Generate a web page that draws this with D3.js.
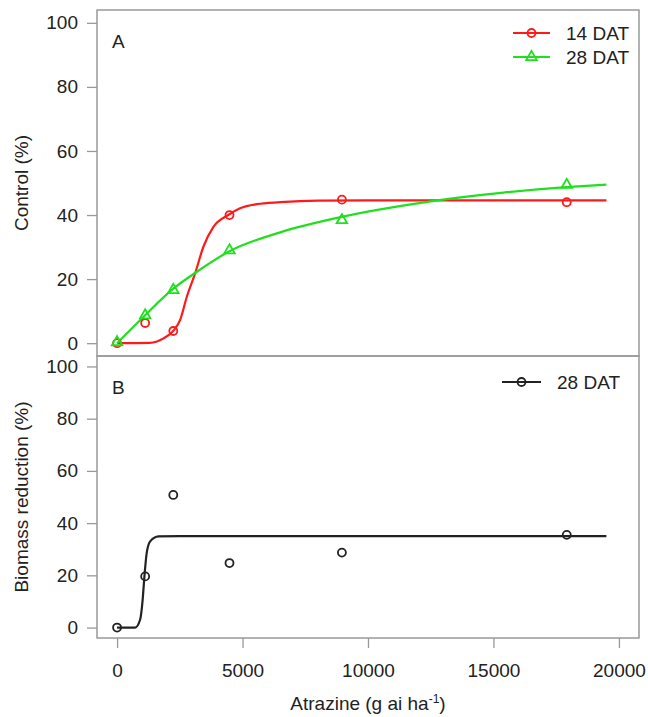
<!DOCTYPE html>
<html lang="en">

<head>
    <meta charset="UTF-8">
    <title>Atrazine dose response</title>
    <script src="https://d3js.org/d3.v7.min.js"></script>
    <style>
        body,
        html {
            margin: 0;
            padding: 0;
            background: #fff;
            overflow: hidden;
        }

        svg {
            display: block;
            font-family: "Liberation Sans", Arial, sans-serif;
        }
    </style>
</head>

<body>
    <script>
        // Observed values (g ai/ha)
        const doses = [0, 1120, 2240, 4480, 8960, 17920];
        const control14 = [0, 6.3, 3.8, 40, 44.8, 44];
        const control28 = [0.3, 8.7, 16.6, 29, 38.4, 49.4];
        const biomass28 = [0, 19.6, 50.8, 24.7, 28.7, 35.5];

        // Fitted curves
        const fit14X = [0, 1300, 1850, 2270, 2510, 2780, 3110, 3440, 3840, 4430, 4900, 5570, 6500, 8000, 10000, 19500];
        const fit14Y = [0, 0.1, 1.5, 4.1, 7.2, 14.5, 21.8, 30.1, 36.3, 40.0, 42.1, 43.4, 44.0, 44.5, 44.6, 44.6];
        const fit28X = [0, 1050, 2240, 3180, 4500, 6500, 9000, 12700, 15400, 17900, 19500];
        const fit28Y = [0, 8.2, 17.0, 22.3, 28.8, 34.6, 39.5, 44.5, 47.0, 48.7, 49.5];
        const fitBX = [0, 720, 920, 1020, 1090, 1180, 1320, 1650, 2500, 19500];
        const fitBY = [0, 0, 3.1, 10.7, 19.6, 28.5, 33.0, 34.9, 35.0, 35.0];

        const xTicks = [0, 5000, 10000, 15000, 20000];
        const yTicks = [0, 20, 40, 60, 80, 100];

        const width = 648, height = 717;
        const left = 97, right = 639;
        const frame = "#999";
        const ink = "#222";
        const red = "#ff1a1a", green = "#1fe01f";
        const fs = 19;

        const svg = d3.select("body").append("svg")
            .attr("width", width)
            .attr("height", height);

        const x = d3.scaleLinear().domain([-800, 20800]).range([left, right]);
        const yA = d3.scaleLinear().domain([-4, 104]).range([356, 10]);
        const yB = d3.scaleLinear().domain([-4, 104]).range([638, 356]);

        function panel(y, top, bottom, label, title) {
            const g = svg.append("g");
            g.append("rect")
                .attr("x", left).attr("y", top)
                .attr("width", right - left).attr("height", bottom - top)
                .attr("fill", "none").attr("stroke", frame).attr("stroke-width", 1.5);

            const ax = g.append("g")
                .attr("transform", `translate(${left},0)`)
                .call(d3.axisLeft(y).tickValues(yTicks).tickSize(10).tickPadding(9));
            ax.select(".domain").remove();
            ax.selectAll("line").attr("stroke", frame).attr("stroke-width", 1.3);
            ax.selectAll("text").attr("fill", ink).attr("font-size", fs)
                .attr("font-family", "Liberation Sans, Arial, sans-serif");

            g.append("text")
                .attr("x", 112).attr("y", top + 38)
                .attr("fill", ink).attr("font-size", fs)
                .text(label);

            g.append("text")
                .attr("transform", `translate(28,${(y(0) + y(100)) / 2}) rotate(-90)`)
                .attr("text-anchor", "middle")
                .attr("fill", ink).attr("font-size", fs)
                .text(title);
            return g;
        }

        const gA = panel(yA, 10, 356, "A", "Control (%)");
        const gB = panel(yB, 356, 638, "B", "Biomass reduction (%)");

        function curve(g, y, xs, ys, color) {
            const line = d3.line()
                .x(d => x(d[0]))
                .y(d => y(d[1]))
                .curve(d3.curveMonotoneX);
            g.append("path")
                .datum(d3.zip(xs, ys))
                .attr("d", line)
                .attr("fill", "none")
                .attr("stroke", color)
                .attr("stroke-width", 2.2);
        }

        function circles(g, y, vals, color) {
            g.selectAll(null)
                .data(d3.zip(doses, vals))
                .enter().append("circle")
                .attr("cx", d => x(d[0]))
                .attr("cy", d => y(d[1]))
                .attr("r", 4)
                .attr("fill", "none")
                .attr("stroke", color)
                .attr("stroke-width", 1.8);
        }

        const tri = d3.symbol().type(d3.symbolTriangle).size(48);

        function triangles(g, y, vals, color) {
            g.selectAll(null)
                .data(d3.zip(doses, vals))
                .enter().append("path")
                .attr("d", tri)
                .attr("transform", d => `translate(${x(d[0])},${y(d[1])})`)
                .attr("fill", "none")
                .attr("stroke", color)
                .attr("stroke-width", 1.8);
        }

        // Panel A
        curve(gA, yA, fit14X, fit14Y, red);
        curve(gA, yA, fit28X, fit28Y, green);
        circles(gA, yA, control14, red);
        triangles(gA, yA, control28, green);

        // Panel B
        curve(gB, yB, fitBX, fitBY, ink);
        circles(gB, yB, biomass28, ink);

        // Legends
        function legendRow(x0, x1, yy, color, marker, text) {
            svg.append("line")
                .attr("x1", x0).attr("x2", x1).attr("y1", yy).attr("y2", yy)
                .attr("stroke", color).attr("stroke-width", 2.2);
            const cx = (x0 + x1) / 2;
            if (marker === "circle") {
                svg.append("circle").attr("cx", cx).attr("cy", yy).attr("r", 4)
                    .attr("fill", "none").attr("stroke", color).attr("stroke-width", 1.8);
            } else {
                svg.append("path").attr("d", tri).attr("transform", `translate(${cx},${yy})`)
                    .attr("fill", "none").attr("stroke", color).attr("stroke-width", 1.8);
            }
            svg.append("text")
                .attr("x", x1 + 16).attr("y", yy + 7)
                .attr("fill", ink).attr("font-size", fs)
                .text(text);
        }
        legendRow(513, 550, 33, red, "circle", "14 DAT");
        legendRow(513, 550, 57, green, "triangle", "28 DAT");
        legendRow(502, 541, 382, ink, "circle", "28 DAT");

        // X axis (bottom panel only)
        const xa = svg.append("g")
            .attr("transform", "translate(0,638)")
            .call(d3.axisBottom(x).tickValues(xTicks).tickFormat(d3.format("d")).tickSize(10).tickPadding(16));
        xa.select(".domain").remove();
        xa.selectAll("line").attr("stroke", frame).attr("stroke-width", 1.3);
        xa.selectAll("text").attr("fill", ink).attr("font-size", fs)
            .attr("font-family", "Liberation Sans, Arial, sans-serif");

        const xt = svg.append("text")
            .attr("x", (left + right) / 2).attr("y", 710)
            .attr("text-anchor", "middle")
            .attr("fill", ink).attr("font-size", fs);
        xt.append("tspan").text("Atrazine (g ai ha");
        xt.append("tspan").attr("dy", -7).attr("font-size", 12).text("-1");
        xt.append("tspan").attr("dy", 7).text(")");
    </script>
</body>

</html>
